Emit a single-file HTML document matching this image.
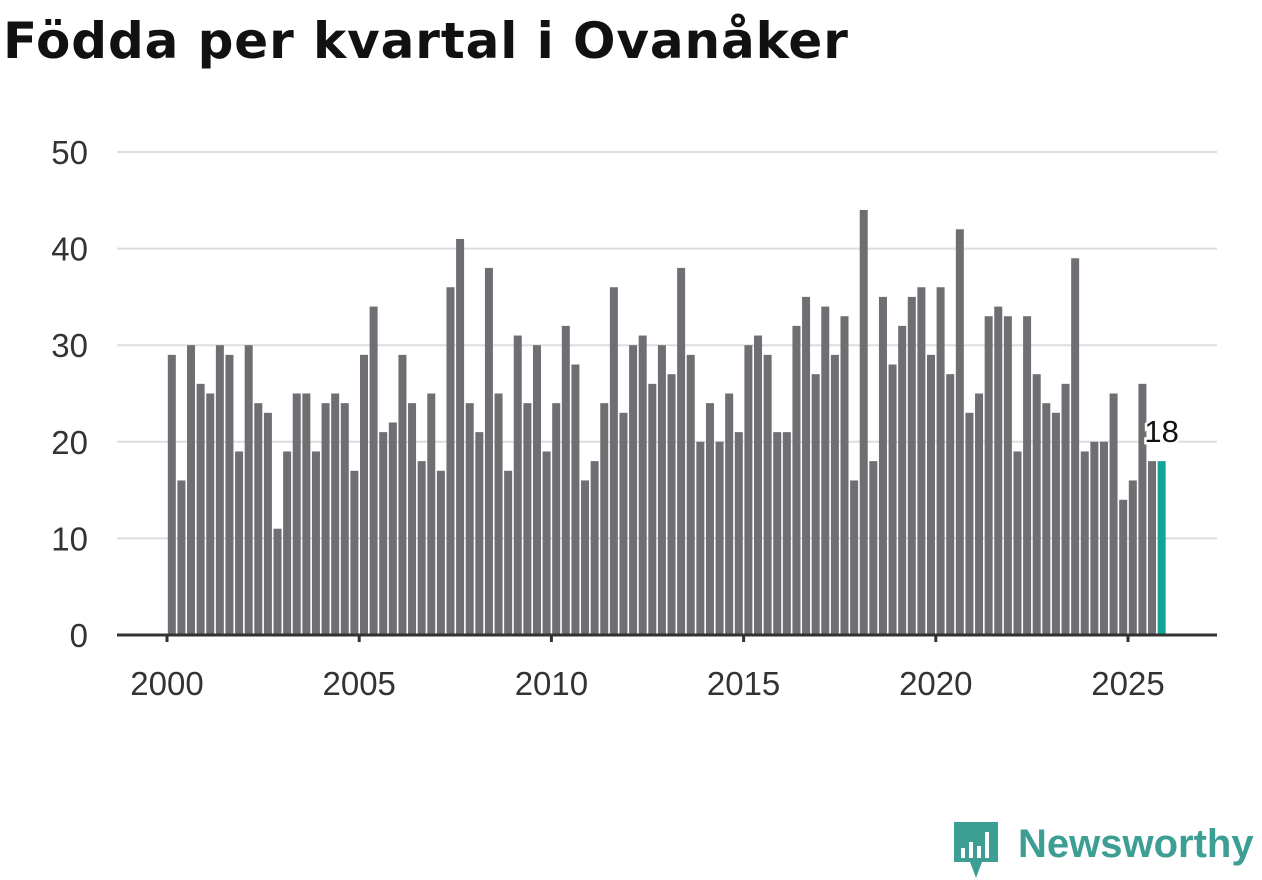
<!DOCTYPE html>
<html><head><meta charset="utf-8"><style>
body{margin:0;width:1262px;height:879px;background:#fff;overflow:hidden;font-family:"Liberation Sans","DejaVu Sans",sans-serif}
h1{position:absolute;left:3px;top:12px;margin:0;font-family:"DejaVu Sans",sans-serif;font-size:50px;font-weight:bold;color:#111;letter-spacing:0.9px;white-space:nowrap}
</style></head><body>
<h1>Födda per kvartal i Ovanåker</h1>
<svg id="c" width="1262" height="879" style="position:absolute;left:0;top:0"></svg>
<div style="position:absolute;left:952px;top:820px;height:60px;width:310px">
<svg width="50" height="60" style="position:absolute;left:0;top:0"><path d="M2 2h44v40h-16l-6 16-6-16h-16z" fill="#3d9e93"/><rect x="9" y="28" width="4" height="10" fill="#fff"/><rect x="17" y="22" width="4" height="16" fill="#fff"/><rect x="25" y="26" width="4" height="12" fill="#fff"/><rect x="33" y="12" width="4" height="26" fill="#fff"/></svg>
<div style="position:absolute;left:66px;top:2px;font-size:40px;font-weight:bold;color:#3d9e93">Newsworthy</div></div>
<script>
const years=["2000","2005","2010","2015","2020","2025"];
const yTicks=[0,10,20,30,40,50];
const values=[29,16,30,26,25,30,29,19,30,24,23,11,19,25,25,19,24,25,24,17,29,34,21,22,29,24,18,25,17,36,41,24,21,38,25,17,31,24,30,19,24,32,28,16,18,24,36,23,30,31,26,30,27,38,29,20,24,20,25,21,30,31,29,21,21,32,35,27,34,29,33,16,44,18,35,28,32,35,36,29,36,27,42,23,25,33,34,33,19,33,27,24,23,26,39,19,20,20,25,14,16,26,18,18];
const startYear=2000;
const NS="http://www.w3.org/2000/svg",svg=document.getElementById('c');
const x=t=>167+(t-2000)*38.44, y=v=>635-v*9.66;
function mk(tag,a,txt){const e=document.createElementNS(NS,tag);for(const k in a)e.setAttribute(k,a[k]);if(txt!=null)e.textContent=txt;svg.appendChild(e);return e;}
yTicks.forEach(v=>{
 if(v>0){const g=mk('line',{x1:117,x2:1217,y1:y(v),y2:y(v),stroke:'#ddd','stroke-width':2});
 
 }
 const t=mk('text',{x:88,y:y(v)+12,'text-anchor':'end','font-size':33,fill:'#333'},v);
 
 
});
values.forEach((v,i)=>{
 const cx=x(startYear+(i+0.5)/4);
 const last=i===values.length-1;
 const b=mk('rect',{x:cx-4,y:y(v),width:8,height:y(0)-y(v),fill:last?'#12a596':'#6e6e73'});
 
 
 if(last){const l=mk('text',{x:cx,y:y(v)-19,'text-anchor':'middle','font-size':31,fill:'#111',stroke:'#fff','stroke-width':5,'paint-order':'stroke'},v);
 
 }
});
const ax=mk('line',{x1:117,x2:1217,y1:635,y2:635,stroke:'#333','stroke-width':3});


years.forEach(yr=>{
 const px=x(+yr);
 const tk=mk('line',{x1:px,x2:px,y1:635,y2:642,stroke:'#333','stroke-width':3});
 
 
 const t=mk('text',{x:px,y:695,'text-anchor':'middle','font-size':33,fill:'#333'},yr);
 
 
});
</script>
</body></html>
